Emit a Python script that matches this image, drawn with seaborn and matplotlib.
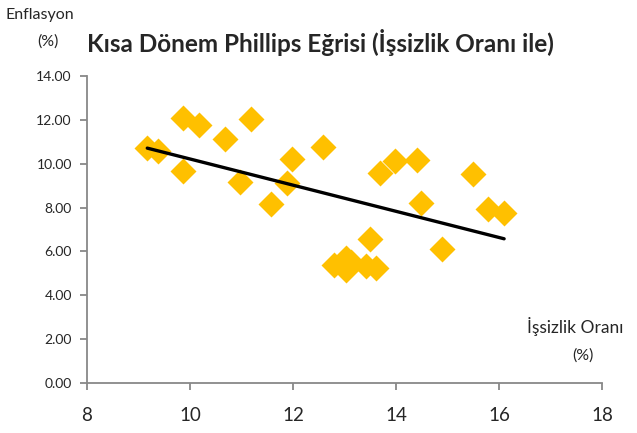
import matplotlib
matplotlib.use('Agg')
import matplotlib.pyplot as plt
import numpy as np
import pandas as pd
import seaborn as sns

# Unemployment (%) and inflation (%)
issizlik = [9.17, 9.38, 9.86, 10.17, 9.86, 10.68, 11.18, 10.97, 11.57, 11.88,
            11.98, 12.58, 13.69, 13.98, 14.41, 14.49, 15.50, 15.79, 16.10, 14.89,
            13.50, 12.80, 13.02, 13.02, 13.12, 13.42, 13.62]
enflasyon = [10.72, 10.58, 12.08, 11.77, 9.67, 11.13, 12.04, 9.17, 8.16, 9.12,
             10.21, 10.76, 9.58, 10.12, 10.17, 8.21, 9.53, 7.93, 7.75, 6.11,
             6.55, 5.40, 5.70, 5.15, 5.50, 5.33, 5.24]
x_ticks = [8, 10, 12, 14, 16, 18]
y_ticks = [0, 2, 4, 6, 8, 10, 12, 14]

df = pd.DataFrame({'issizlik': issizlik, 'enflasyon': enflasyon})

sns.set_style('white')
plt.rcParams['font.family'] = ['Lato', 'DejaVu Sans']

fig = plt.figure(figsize=(6.37, 4.33), dpi=100)
ax = fig.add_axes([0.1366, 0.1155, 0.8084, 0.709])

sns.regplot(data=df, x='issizlik', y='enflasyon', ax=ax, ci=None, truncate=True,
            marker='D',
            scatter_kws={'color': '#FFC000', 's': 175, 'linewidths': 0, 'alpha': 1, 'zorder': 2},
            line_kws={'color': 'black', 'linewidth': 2.4, 'zorder': 3, 'solid_capstyle': 'round'})

ax.set_xlim(8, 18)
ax.set_ylim(0, 14)
ax.set_xticks(x_ticks)
ax.set_yticks(y_ticks)
ax.set_xticklabels([str(v) for v in x_ticks], fontsize=13.5)
ax.set_yticklabels(['%.2f' % v for v in y_ticks], fontsize=10)
ax.set_xlabel('')
ax.set_ylabel('')

for side in ['top', 'right']:
    ax.spines[side].set_visible(False)
for side in ['left', 'bottom']:
    ax.spines[side].set_color('#888888')
    ax.spines[side].set_linewidth(1.3)
ax.tick_params(axis='both', which='both', direction='out', length=5, width=1.3,
               color='#888888', left=True, bottom=True)
ax.tick_params(axis='x', pad=12)
ax.tick_params(axis='y', pad=6)

# Titles and axis captions placed as in the reference
fig.text(0.137, 0.903, 'Kısa Dönem Phillips Eğrisi (İşsizlik Oranı ile)',
         fontsize=17.5, fontweight='bold', ha='left', va='center')
fig.text(0.008, 0.966, 'Enflasyon', fontsize=11.5, ha='left', va='center')
fig.text(0.058, 0.903, '(%)', fontsize=11.5, ha='left', va='center')
fig.text(0.827, 0.245, 'İşsizlik Oranı', fontsize=12.5, ha='left', va='center')
fig.text(0.898, 0.18, '(%)', fontsize=11.5, ha='left', va='center')

fig.savefig('out.png', dpi=100)
